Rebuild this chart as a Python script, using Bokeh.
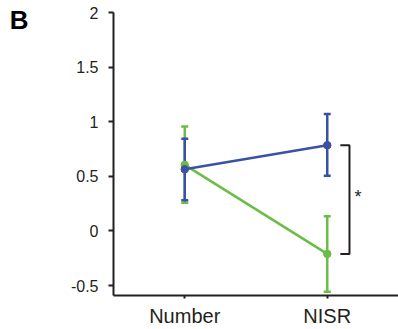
from bokeh.plotting import figure
from bokeh.models import Range1d, Whisker, TeeHead, ColumnDataSource, FixedTicker, LinearAxis
from bokeh.core.properties import value
from bokeh.embed import file_html
from bokeh.resources import INLINE

# ---- data ----
categories = ["Number", "NISR"]
cat_pos = [1, 2]
blue_mean = [0.565, 0.785]
blue_upper = [0.843, 1.07]
blue_lower = [0.28, 0.505]
green_mean = [0.605, -0.21]
green_upper = [0.957, 0.135]
green_lower = [0.258, -0.557]
y_ticks = [-0.5, 0, 0.5, 1, 1.5, 2]
y_tick_labels = ["-0.5", "0", "0.5", "1", "1.5", "2"]
panel_letter = "B"

BLUE = "#3a52a3"
GREEN = "#6cbd45"
INK = "#231f20"
FONT = "Liberation Sans"

p = figure(width=398, height=329, output_backend="svg", toolbar_location=None,
           x_range=Range1d(0.5, 2.5), y_range=Range1d(-0.591, 2.0),
           min_border_left=113, min_border_right=0, min_border_top=12, min_border_bottom=32)
p.outline_line_color = None
p.xgrid.visible = False
p.ygrid.visible = False
p.background_fill_color = "white"

for mean, up, lo, col in [(green_mean, green_upper, green_lower, GREEN),
                          (blue_mean, blue_upper, blue_lower, BLUE)]:
    src = ColumnDataSource(dict(x=cat_pos, m=mean, u=up, l=lo))
    w = Whisker(source=src, base="x", upper="u", lower="l", line_color=col, line_width=2.5,
                upper_head=TeeHead(size=7, line_color=col, line_width=2.5),
                lower_head=TeeHead(size=7, line_color=col, line_width=2.5))
    p.add_layout(w)
    p.line("x", "m", source=src, line_color=col, line_width=2.5)
    p.scatter("x", "m", source=src, size=7.5, fill_color=col, line_color=col)

# significance bracket between the NISR means
bx = 2.156
btick = 2.092
p.line([btick, bx, bx, btick], [blue_mean[1], blue_mean[1], green_mean[1], green_mean[1]],
       line_color=INK, line_width=2)
p.text([bx + 0.035], [(blue_mean[1] + green_mean[1]) / 2 + 0.02], text=["*"],
       text_font=value(FONT), text_font_size="18px", text_color=INK,
       text_baseline="middle", text_align="left")

# axes
p.yaxis.ticker = FixedTicker(ticks=y_ticks)
p.yaxis.major_label_overrides = {t: l for t, l in zip(y_ticks, y_tick_labels)}
p.xaxis.ticker = FixedTicker(ticks=cat_pos)
p.xaxis.major_label_overrides = {c: l for c, l in zip(cat_pos, categories)}
for ax in (p.xaxis, p.yaxis):
    ax.axis_line_color = INK
    ax.axis_line_width = 2
    ax.major_tick_line_color = INK
    ax.major_tick_line_width = 2
    ax.major_tick_in = 0
    ax.minor_tick_line_color = None
    ax.major_label_text_font = FONT
    ax.major_label_text_color = INK
p.yaxis.major_tick_out = 5
p.yaxis.major_label_text_font_size = "16px"
p.yaxis.major_label_standoff = 10
p.xaxis.major_tick_out = 3
p.xaxis.major_label_text_font_size = "20px"
p.xaxis.major_label_standoff = 6

# panel letter, drawn as the single label of an invisible outer axis
letter_axis = LinearAxis(ticker=FixedTicker(ticks=[1.935]),
                         major_label_overrides={1.935: panel_letter})
letter_axis.axis_line_color = None
letter_axis.major_tick_line_color = None
letter_axis.minor_tick_line_color = None
letter_axis.major_tick_in = 0
letter_axis.major_tick_out = 0
letter_axis.major_label_text_font = FONT
letter_axis.major_label_text_font_style = "bold"
letter_axis.major_label_text_font_size = "26px"
letter_axis.major_label_text_color = "black"
letter_axis.major_label_standoff = 39
p.add_layout(letter_axis, "left")

open("out.html", "w").write(file_html(p, INLINE))
